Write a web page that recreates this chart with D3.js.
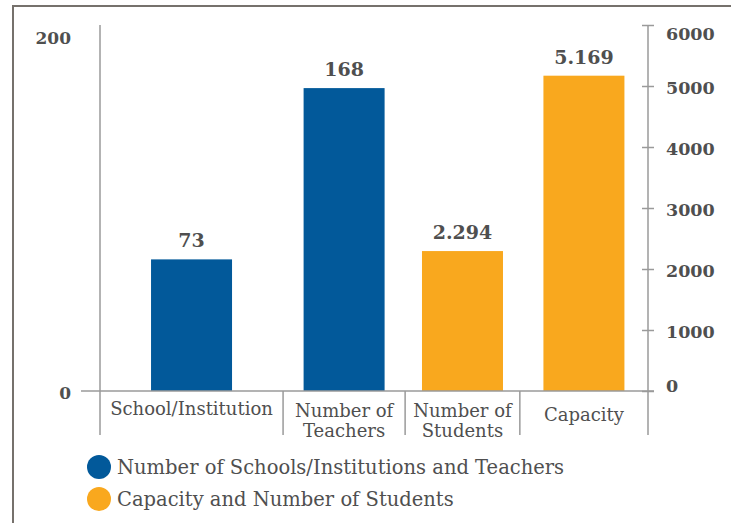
<!DOCTYPE html>
<html>
<head>
<meta charset="utf-8">
<script src="https://cdn.jsdelivr.net/npm/d3@7"></script>
<style>
  html, body { margin: 0; padding: 0; background: #fff; }
  svg { display: block; }
</style>
</head>
<body>
<svg id="chart" width="731" height="523"></svg>
<script>
// ---- data ----
const categories = ["School/Institution", "Number of Teachers", "Number of Students", "Capacity"];
const categoryLines = [["School/Institution"], ["Number of", "Teachers"], ["Number of", "Students"], ["Capacity"]];
const values = [73, 168, 2294, 5169];
const valueAxis = ["left", "left", "right", "right"];
const leftTicks = [0, 200];
const rightTicks = [0, 1000, 2000, 3000, 4000, 5000, 6000];
const legendLabels = ["Number of Schools/Institutions and Teachers", "Capacity and Number of Students"];
const legendAxis = ["left", "right"];

// ---- styling ----
const colors = { left: "#02599a", right: "#f9a81e" };
const textColor = "#4f4f4f";
const axisColor = "#9a9a9a";
const serif = "'DejaVu Serif', serif";

// relative widths of the category cells under the plot
const cellWeights = [1.5, 1, 0.94, 1.05];

const svg = d3.select("#chart");

// frame
svg.append("path")
  .attr("d", "M13,523 V6 H731")
  .attr("fill", "none")
  .attr("stroke", "#76716c")
  .attr("stroke-width", 2);

const plotLeft = 100, plotRight = 648, plotTop = 25, baseY = 391, axisBottom = 435;

const yLeft = d3.scaleLinear().domain([0, 203]).range([baseY, plotTop]);
const yRight = d3.scaleLinear().domain([0, 6000]).range([baseY, plotTop]);

const edges = [0, ...d3.cumsum(cellWeights)];
const xPos = d3.scaleLinear().domain([0, edges[edges.length - 1]]).range([plotLeft, plotRight]);
const cellCenter = i => xPos((edges[i] + edges[i + 1]) / 2);
const barWidth = 81;

const fmt = d3.formatLocale({ decimal: ",", thousands: ".", grouping: [3], currency: ["", ""] }).format(",");

// bars
const bars = svg.append("g");
values.forEach((v, i) => {
  const y = valueAxis[i] === "left" ? yLeft : yRight;
  bars.append("rect")
    .attr("x", cellCenter(i) - barWidth / 2)
    .attr("y", y(v))
    .attr("width", barWidth)
    .attr("height", baseY - y(v))
    .attr("fill", colors[valueAxis[i]]);
  bars.append("text")
    .attr("x", cellCenter(i))
    .attr("y", y(v) - 12)
    .attr("text-anchor", "middle")
    .attr("font-family", serif)
    .attr("font-weight", "bold")
    .attr("font-size", 19)
    .attr("fill", textColor)
    .text(fmt(v));
});

// axis lines
const lines = svg.append("g").attr("stroke", axisColor).attr("stroke-width", 1.5);
lines.append("line").attr("x1", plotLeft).attr("x2", plotLeft).attr("y1", plotTop).attr("y2", axisBottom);
lines.append("line").attr("x1", plotRight).attr("x2", plotRight).attr("y1", plotTop).attr("y2", axisBottom);
lines.append("line").attr("x1", 81).attr("x2", 654).attr("y1", baseY).attr("y2", baseY);
edges.slice(1, -1).forEach(e => {
  lines.append("line").attr("x1", xPos(e)).attr("x2", xPos(e)).attr("y1", baseY).attr("y2", axisBottom);
});

// left axis
const gLeft = svg.append("g")
  .attr("transform", `translate(${plotLeft},0)`)
  .call(d3.axisLeft(yLeft).tickValues(leftTicks).tickSize(0).tickPadding(29).tickFormat(d3.format("d")));
gLeft.select(".domain").remove();
gLeft.selectAll("text")
  .attr("font-family", serif).attr("font-weight", "bold").attr("font-size", 17).attr("fill", textColor)
  .attr("dy", d => d === 0 ? "0.45em" : "0.75em");

// right axis
const gRight = svg.append("g")
  .attr("transform", `translate(${plotRight},0)`)
  .call(d3.axisRight(yRight).tickValues(rightTicks).tickSize(6).tickPadding(12).tickFormat(d3.format("d")));
gRight.select(".domain").remove();
gRight.selectAll(".tick line").attr("x1", -6).attr("stroke", axisColor).attr("stroke-width", 1.5);
gRight.selectAll("text")
  .attr("font-family", serif).attr("font-weight", "bold").attr("font-size", 17.5).attr("fill", textColor)
  .attr("dy", d => d === 6000 ? "0.85em" : d === 0 ? "0.05em" : "0.4em");

// category labels
const cats = svg.append("g")
  .attr("font-family", serif).attr("font-size", 18).attr("fill", textColor).attr("text-anchor", "middle");
categoryLines.forEach((lns, i) => {
  const t = cats.append("text").attr("x", cellCenter(i));
  const y0 = lns.length === 1 ? (i === 0 ? 415 : 421) : 417;
  lns.forEach((s, j) => {
    t.append("tspan").attr("x", cellCenter(i)).attr("y", y0 + j * 20).text(s);
  });
});

// legend
const legend = svg.append("g");
legendLabels.forEach((s, i) => {
  const cy = 467 + i * 32;
  legend.append("circle").attr("cx", 99).attr("cy", cy).attr("r", 12).attr("fill", colors[legendAxis[i]]);
  legend.append("text")
    .attr("x", 117).attr("y", cy + 7)
    .attr("font-family", serif).attr("font-size", 19.5).attr("fill", textColor)
    .text(s);
});
</script>
</body>
</html>
